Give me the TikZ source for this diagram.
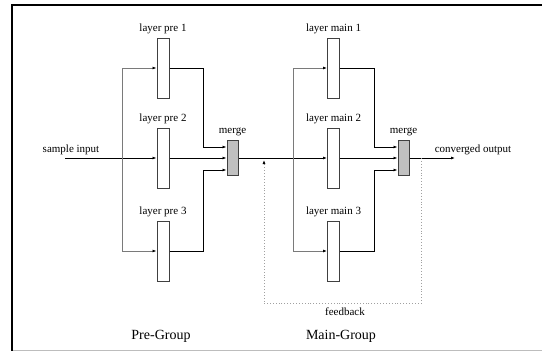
\documentclass[tikz,border=0pt]{standalone}
\usepackage{fontspec}
\setmainfont{Liberation Serif}
\usetikzlibrary{arrows.meta, positioning}
\definecolor{boxedge}{HTML}{404040}
\definecolor{wiregray}{HTML}{7A7A7A}
\definecolor{mergefill}{HTML}{C0C0C0}
\definecolor{dotgray}{HTML}{A0A0A0}
\definecolor{framegray}{HTML}{BDBDBD}

\begin{document}
\begin{tikzpicture}[x=1pt, y=-1pt, >={Latex[length=4pt, width=3pt, color=black]},
  layerbox/.style={draw=boxedge, line width=1pt, fill=white, minimum width=12pt, minimum height=60pt, inner sep=0pt},
  mergebox/.style={draw=boxedge, line width=1pt, fill=mergefill, minimum width=11pt, minimum height=35pt, inner sep=0pt},
  lbl/.style={font=\fontsize{11}{13}\selectfont, inner sep=0pt},
  grplbl/.style={font=\fontsize{14}{16}\selectfont, inner sep=0pt},
  wire/.style={draw=black, line width=1pt},
  wirelt/.style={draw=wiregray, line width=1pt},
  fb/.style={draw=dotgray, line width=0.9pt, dotted}]

\useasboundingbox (0,0) rectangle (542,351);

% Frame
\draw[framegray, line width=1pt] (12,350) -- (542,350);
\draw[black, line width=2pt] (12,350.5) -- (12,5) -- (542,5);

% Pre-Group layers
\node[layerbox] (pre1) at (163,68) {};
\node[layerbox] (pre2) at (163,158) {};
\node[layerbox] (pre3) at (163,251) {};
\node[mergebox] (mrgA) at (232.5,158) {};

% Main-Group layers
\node[layerbox] (main1) at (333.5,68) {};
\node[layerbox] (main2) at (333.5,158) {};
\node[layerbox] (main3) at (333.5,251) {};
\node[mergebox] (mrgB) at (403.5,158) {};

% Labels
\node[lbl, above=3.5pt of pre1] (lpre1) {layer pre 1};
\node[lbl, above=3.5pt of pre2] (lpre2) {layer pre 2};
\node[lbl, above=3.5pt of pre3] (lpre3) {layer pre 3};
\node[lbl, above=4pt of mrgA] (lmrgA) {merge};
\node[lbl, above=3.5pt of main1] (lmain1) {layer main 1};
\node[lbl, above=3.5pt of main2] (lmain2) {layer main 2};
\node[lbl, above=3.5pt of main3] (lmain3) {layer main 3};
\node[lbl, above=4pt of mrgB] (lmrgB) {merge};

% In / out
\coordinate (in) at (65,158);
\coordinate (out) at (455,158);
\node[lbl, anchor=south] (lin) at (71,155) {sample input};
\node[lbl, anchor=south] (lout) at (473,155) {converged output};

% Split and join points
\coordinate (sA) at (122,158);
\coordinate (jA) at (203,158);
\coordinate (sB) at (293,158);
\coordinate (jB) at (374.5,158);

% Pre-Group wiring
\draw[wire,->] (in) -- (pre2.west);
\draw[wirelt,->] (sA) |- (pre1.west);
\draw[wirelt,->] (sA) |- (pre3.west);
\draw[wire,->] (pre1.east) -| ([yshift=11pt]jA) -- ([yshift=11pt]mrgA.west);
\draw[wire,->] (pre2.east) -- (mrgA.west);
\draw[wire,->] (pre3.east) -| ([yshift=-12pt]jA) -- ([yshift=-12pt]mrgA.west);

% Main-Group wiring
\draw[wire,->] (mrgA.east) -- (main2.west);
\draw[wirelt,->] (sB) |- (main1.west);
\draw[wirelt,->] (sB) |- (main3.west);
\draw[wire,->] (main1.east) -| ([yshift=11pt]jB) -- ([yshift=11pt]mrgB.west);
\draw[wire,->] (main2.east) -- (mrgB.west);
\draw[wire,->] (main3.east) -| ([yshift=-12pt]jB) -- ([yshift=-12pt]mrgB.west);
\draw[wire,->] (mrgB.east) -- (out);

% Feedback loop
\coordinate (fbR) at (421,158);
\coordinate (fbL) at (264,160);
\coordinate (fbbot) at (345,303.5);
\draw[fb,->] (fbR) -- (fbR |- fbbot) -| (fbL);
\node[lbl, below=4pt of fbbot] (lfb) {feedback};

% Group titles
\node[grplbl] (gpre) at (161,336) {Pre-Group};
\node[grplbl] (gmain) at (341,336) {Main-Group};

\end{tikzpicture}
\end{document}
